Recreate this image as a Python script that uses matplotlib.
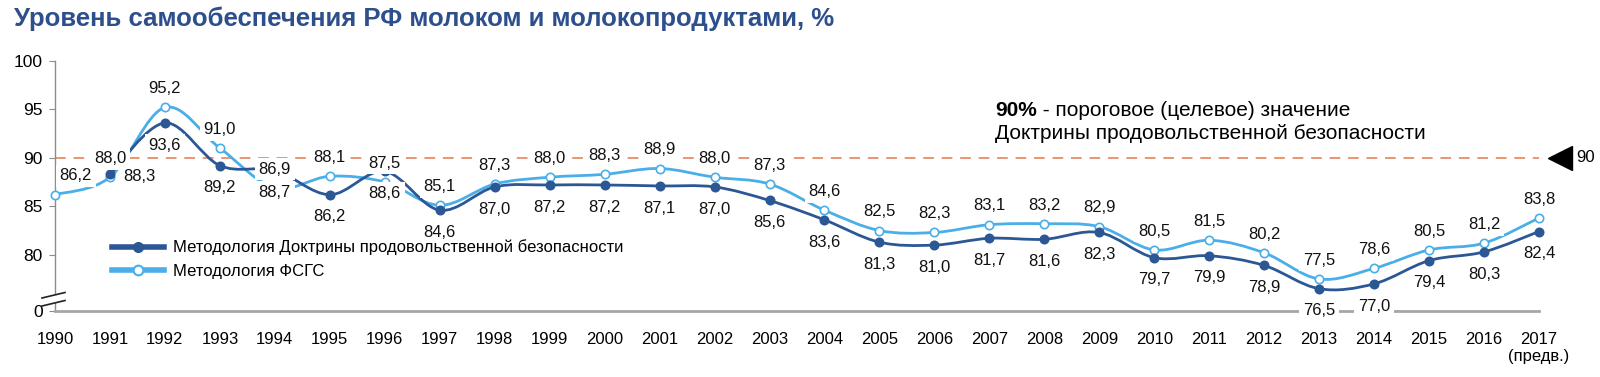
import matplotlib
matplotlib.use("Agg")
import matplotlib.pyplot as plt
from matplotlib.lines import Line2D
from matplotlib.path import Path
from matplotlib.patches import PathPatch, Polygon


years = list(range(1990, 2018))
year_labels = [str(y) for y in years[:-1]] + ["2017\n(предв.)"]

# None = no value for that year
doctrine = [None, 88.3, 93.6, 89.2, 88.7, 86.2, 88.6, 84.6, 87.0, 87.2, 87.2, 87.1, 87.0, 85.6,
            83.6, 81.3, 81.0, 81.7, 81.6, 82.3, 79.7, 79.9, 78.9, 76.5, 77.0, 79.4, 80.3, 82.4]
fsgs = [86.2, 88.0, 95.2, 91.0, 86.9, 88.1, 87.5, 85.1, 87.3, 88.0, 88.3, 88.9, 88.0, 87.3,
        84.6, 82.5, 82.3, 83.1, 83.2, 82.9, 80.5, 81.5, 80.2, 77.5, 78.6, 80.5, 81.2, 83.8]
threshold = 90

y_ticks = [80, 85, 90, 95, 100]
y_bottom = 74.2

DARK = "#2b5895"
LIGHT = "#4aaee8"
ORANGE = "#eb9570"
TITLE = "#2d4f8c"

plt.rcParams["font.family"] = ["Liberation Sans", "DejaVu Sans"]


def smooth_path(xs, ys):
    # excel-like smoothed line (catmull-rom as cubic bezier)
    verts = [(xs[0], ys[0])]
    codes = [Path.MOVETO]
    n = len(xs)
    for i in range(n - 1):
        a = max(i - 1, 0)
        d = min(i + 2, n - 1)
        c1 = (xs[i] + (xs[i + 1] - xs[a]) / 6, ys[i] + (ys[i + 1] - ys[a]) / 6)
        c2 = (xs[i + 1] - (xs[d] - xs[i]) / 6, ys[i + 1] - (ys[d] - ys[i]) / 6)
        verts += [c1, c2, (xs[i + 1], ys[i + 1])]
        codes += [Path.CURVE4] * 3
    return Path(verts, codes)


def draw_series(ax, values, color, face):
    xs = [x for x, v in zip(years, values) if v is not None]
    ys = [v for v in values if v is not None]
    ax.add_patch(PathPatch(smooth_path(xs, ys), fill=False, edgecolor=color, lw=2.0,
                           zorder=3, capstyle="round"))
    ax.plot(xs, ys, linestyle="none", marker="o", ms=6, mfc=face, mec=color, mew=1.2,
            zorder=4, clip_on=False)


def label_series(ax, values, dy, shifts):
    for x, v in zip(years, values):
        if v is None:
            continue
        dx, ddy = shifts.get(x, (0, 0))
        ax.annotate(f"{v:.1f}".replace(".", ","), (x, v), xytext=(dx, dy + ddy),
                    textcoords="offset points", ha="center", va="center", fontsize=12,
                    color="#111111", zorder=5,
                    bbox=dict(boxstyle="square,pad=0.22", fc="white", ec="none"))


fig = plt.figure(figsize=(16, 3.77), dpi=100)
ax = fig.add_axes([55 / 1600, 1 - 311 / 377, (1539 - 55) / 1600, (311 - 60.9) / 377])
ax.set_xlim(1990, 2017)
ax.set_ylim(y_bottom, 100)

for side in ["top", "right"]:
    ax.spines[side].set_visible(False)
ax.spines["bottom"].set_color("#a6a6a6")
ax.spines["bottom"].set_linewidth(2)
ax.spines["left"].set_color("#8c8c8c")
ax.spines["left"].set_linewidth(1)

ax.set_yticks([y_bottom] + y_ticks)
ax.set_yticklabels(["0"] + [str(t) for t in y_ticks], fontsize=12.5)
ax.tick_params(axis="y", length=4, color="#8c8c8c", pad=5)
ax.set_xticks(years)
ax.set_xticklabels(year_labels, fontsize=12)
ax.tick_params(axis="x", length=0, pad=15)

# break marks on the y axis
tr = ax.transAxes
bx = -13 / 1484
bw = 23 / 1484
ax.add_patch(Polygon([(bx, 0.052), (bx + bw, 0.072), (bx + bw, 0.040), (bx, 0.020)],
                     closed=True, fc="white", ec="none", transform=tr, clip_on=False, zorder=6))
for y0 in (0.052, 0.020):
    ax.add_line(Line2D([bx, bx + bw], [y0, y0 + 0.022], transform=tr, color="#222222",
                       lw=1.2, clip_on=False, zorder=7))

ax.axhline(threshold, color=ORANGE, lw=1.4, dashes=[5.5, 4], zorder=2)
ax.plot([2017.38], [threshold], marker="<", ms=17, color="black", clip_on=False, zorder=5)
ax.text(2017.85, threshold, str(threshold), ha="center", va="center", fontsize=12, clip_on=False)

draw_series(ax, fsgs, LIGHT, "white")
draw_series(ax, doctrine, DARK, DARK)
label_series(ax, fsgs, 13.5, {1990: (15, 0)})
label_series(ax, doctrine, -16, {1991: (21, 14.5)})

handles = [
    Line2D([], [], color=DARK, lw=4, marker="o", ms=7, mfc=DARK, mec=DARK),
    Line2D([], [], color=LIGHT, lw=4, marker="o", ms=7, mfc="white", mec=LIGHT, mew=1.5),
]
fig.legend(handles, ["Методология Доктрины продовольственной безопасности", "Методология ФСГС"],
           loc="center left", bbox_to_anchor=(112 / 1600, 1 - 259.2 / 377), frameon=False,
           fontsize=12, handlelength=3.1, handletextpad=0.55, labelspacing=0.5,
           borderpad=0, borderaxespad=0)

fig.text(14 / 1600, 1 - 18.5 / 377, "Уровень самообеспечения РФ молоком и молокопродуктами, %",
         fontsize=18.5, fontweight="bold", color=TITLE, ha="left", va="center")

t_bold = fig.text(995 / 1600, 1 - 110 / 377, "90%", fontsize=15, fontweight="bold",
                  ha="left", va="center")
ax.annotate(" - пороговое (целевое) значение", xy=(1, 0.5), xycoords=t_bold,
            ha="left", va="center", fontsize=15)
fig.text(995 / 1600, 1 - 133 / 377, "Доктрины продовольственной безопасности", fontsize=15,
         ha="left", va="center")

fig.savefig("out.png", dpi=100)
